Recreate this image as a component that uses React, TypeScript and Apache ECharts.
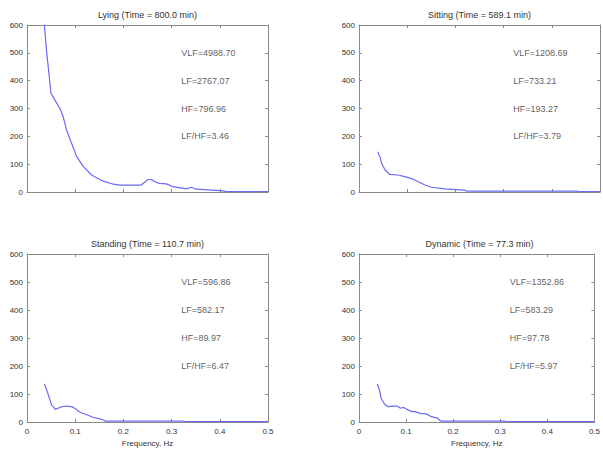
import React, { useEffect, useRef } from "react";
import * as echarts from "echarts";

const titles = [
  "Lying (Time = 800.0 min)",
  "Sitting (Time = 589.1 min)",
  "Standing (Time = 110.7 min)",
  "Dynamic (Time = 77.3 min)",
];

const lyingData: [number, number][] = [
  [0.035, 620], [0.036, 600], [0.041, 498], [0.0455, 426], [0.0497, 355], [0.058, 330],
  [0.068, 301], [0.075, 271], [0.082, 223], [0.0925, 175], [0.103, 127], [0.117, 91],
  [0.134, 61], [0.155, 41], [0.179, 28], [0.193, 25], [0.237, 25], [0.251, 45],
  [0.258, 45], [0.265, 37], [0.275, 31], [0.289, 29], [0.303, 19], [0.331, 11],
  [0.341, 17], [0.351, 10], [0.4, 5], [0.413, 2], [0.45, 1], [0.5, 1],
];

const sittingData: [number, number][] = [
  [0.0387, 145], [0.0435, 127], [0.047, 103], [0.054, 79], [0.064, 63], [0.081, 61],
  [0.095, 55], [0.112, 46], [0.123, 37], [0.137, 25], [0.15, 17], [0.178, 11],
  [0.219, 7], [0.223, 3], [0.3, 3], [0.4, 3], [0.45, 3], [0.46, 1], [0.5, 1],
];

const standingData: [number, number][] = [
  [0.036, 136], [0.041, 114], [0.0455, 90], [0.051, 61], [0.059, 45], [0.068, 52],
  [0.079, 57], [0.0925, 55], [0.099, 49], [0.11, 35], [0.124, 26], [0.137, 17],
  [0.151, 11], [0.158, 7], [0.163, 3], [0.25, 3], [0.323, 3], [0.33, 1], [0.5, 1],
];

const dynamicData: [number, number][] = [
  [0.0387, 136], [0.0435, 114], [0.047, 85], [0.054, 64], [0.061, 55], [0.0745, 57],
  [0.081, 57], [0.088, 49], [0.095, 52], [0.102, 45], [0.112, 37], [0.119, 37],
  [0.13, 31], [0.143, 29], [0.154, 19], [0.168, 13], [0.17, 7], [0.175, 3],
  [0.25, 3], [0.309, 3], [0.315, 1], [0.5, 1],
];

const seriesData = [lyingData, sittingData, standingData, dynamicData];

const vlf = ["4988.70", "1208.69", "596.86", "1352.86"];
const lf = ["2767.07", "733.21", "582.17", "583.29"];
const hf = ["796.96", "193.27", "89.97", "97.78"];
const lfhf = ["3.46", "3.79", "6.47", "5.97"];

const xTicks = [0, 0.1, 0.2, 0.3, 0.4, 0.5];
const yTicks = [0, 100, 200, 300, 400, 500, 600];
const xLabelName = "Frequency, Hz";

export default function App() {
  const ref = useRef<HTMLDivElement>(null);
  useEffect(() => {
    if (!ref.current) return;
    const chart = echarts.init(ref.current, null, { renderer: "svg" });
    const font = "Liberation Sans";
    const axisColor = "#8a8a8a";
    const labelColor = "#333";
    const grids = [
      { left: 27, top: 25, width: 241, height: 167 },
      { left: 359, top: 25, width: 241, height: 167 },
      { left: 27, top: 254, width: 241, height: 168 },
      { left: 359, top: 254, width: 241, height: 168 },
    ];
    const xAxes: any[] = [];
    const yAxes: any[] = [];
    const series: any[] = [];
    const graphics: any[] = [];
    grids.forEach((g, i) => {
      const bottomRow = i >= 2;
      const common = {
        type: "value",
        gridIndex: i,
        min: xTicks[0],
        max: xTicks[xTicks.length - 1],
        interval: 0.1,
        splitLine: { show: false },
        axisLine: { show: true, onZero: false, lineStyle: { color: axisColor, width: 1 } },
        axisTick: { show: true, inside: true, length: 3, lineStyle: { color: axisColor } },
      };
      xAxes.push({
        ...common,
        position: "bottom",
        axisLabel: {
          show: bottomRow,
          fontFamily: font,
          fontSize: 8,
          color: labelColor,
          margin: 5,
        },
        name: bottomRow ? xLabelName : "",
        nameLocation: "middle",
        nameGap: 17,
        nameTextStyle: { fontFamily: font, fontSize: 8, color: labelColor },
      });
      xAxes.push({ ...common, position: "top", axisLabel: { show: false } });
      const ycommon = {
        type: "value",
        gridIndex: i,
        min: yTicks[0],
        max: yTicks[yTicks.length - 1],
        interval: 100,
        splitLine: { show: false },
        axisLine: { show: true, onZero: false, lineStyle: { color: axisColor, width: 1 } },
        axisTick: { show: true, inside: true, length: 3, lineStyle: { color: axisColor } },
      };
      yAxes.push({
        ...ycommon,
        position: "left",
        axisLabel: { show: true, fontFamily: font, fontSize: 8, color: labelColor, margin: 4 },
      });
      yAxes.push({ ...ycommon, position: "right", axisLabel: { show: false } });
      series.push({
        type: "line",
        xAxisIndex: 2 * i,
        yAxisIndex: 2 * i,
        data: seriesData[i],
        showSymbol: false,
        clip: true,
        lineStyle: { color: "#6a6af5", width: 1.2 },
        silent: true,
      });
      series.push({
        type: "scatter",
        xAxisIndex: 2 * i,
        yAxisIndex: 2 * i,
        symbolSize: 0,
        silent: true,
        data: [
          { value: [0.32, 500], name: "VLF=" + vlf[i] },
          { value: [0.32, 400], name: "LF=" + lf[i] },
          { value: [0.32, 300], name: "HF=" + hf[i] },
          { value: [0.32, 200], name: "LF/HF=" + lfhf[i] },
        ],
        label: {
          show: true,
          position: "right",
          distance: 0,
          formatter: (p: any) => p.name,
          fontFamily: font,
          fontSize: 9,
          color: labelColor,
        },
      });
      graphics.push({
        type: "text",
        x: g.left + g.width / 2,
        y: g.top - 10,
        silent: true,
        style: {
          text: titles[i],
          fontFamily: font,
          fontSize: 9,
          fontWeight: "normal",
          fill: labelColor,
          align: "center",
          verticalAlign: "middle",
        },
      });
    });
    chart.setOption({
      animation: false,
      backgroundColor: "#fff",
      grid: grids,
      xAxis: xAxes,
      yAxis: yAxes,
      series,
      graphic: graphics,
    });
    return () => chart.dispose();
  }, []);
  return (
    <div
      ref={ref}
      style={{ position: "fixed", left: 0, top: 0, width: 603, height: 450 }}
    />
  );
}
